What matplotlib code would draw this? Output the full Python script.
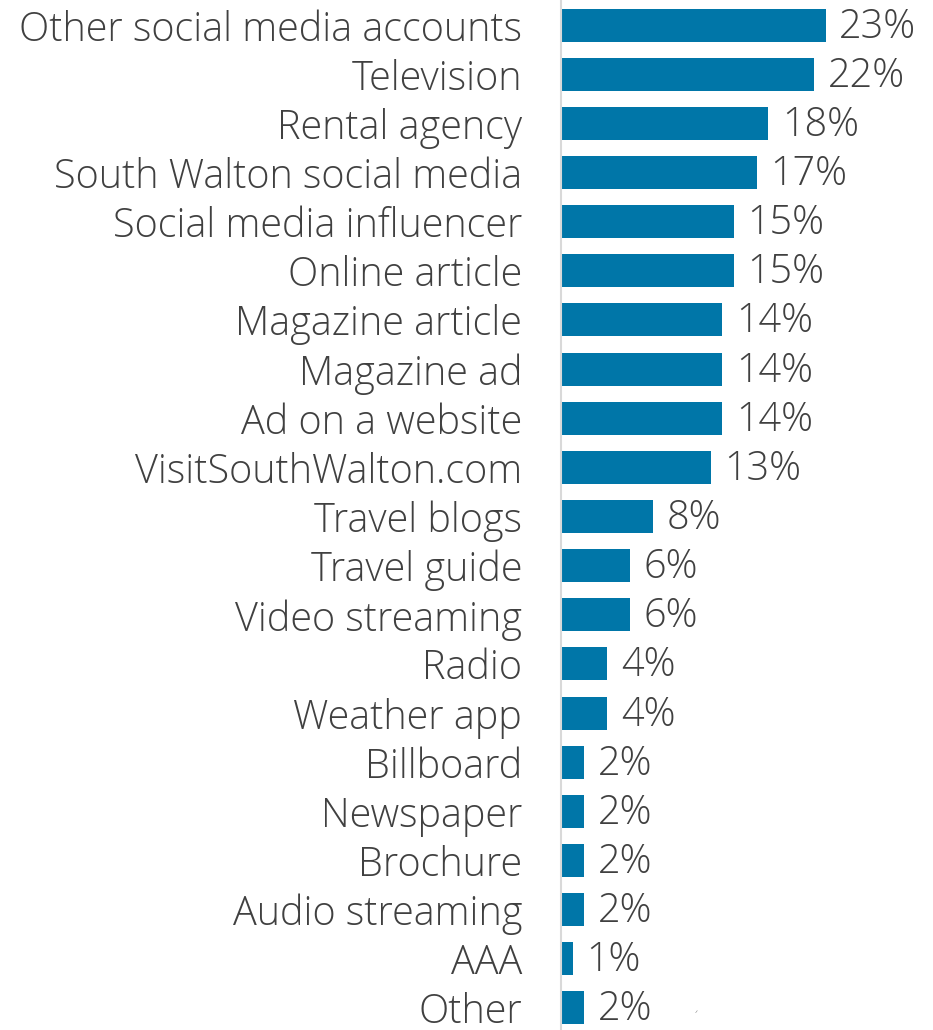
import matplotlib
matplotlib.use('Agg')
import matplotlib.pyplot as plt

# data
categories = ["Other social media accounts", "Television", "Rental agency",
              "South Walton social media", "Social media influencer", "Online article",
              "Magazine article", "Magazine ad", "Ad on a website", "VisitSouthWalton.com",
              "Travel blogs", "Travel guide", "Video streaming", "Radio", "Weather app",
              "Billboard", "Newspaper", "Brochure", "Audio streaming", "AAA", "Other"]
values = [23, 22, 18, 17, 15, 15, 14, 14, 14, 13, 8, 6, 6, 4, 4, 2, 2, 2, 2, 1, 2]

BAR_COLOR = "#0076a8"
TEXT_COLOR = "#404040"
FS = 28.5

plt.rcParams['font.family'] = ['Open Sans', 'DejaVu Sans']
plt.rcParams['font.weight'] = 'light'

fig = plt.figure(figsize=(9.33, 10.30), dpi=100)
left = 561 / 933
ax = fig.add_axes([left, 0, 1 - left, 1])

ypos = list(range(len(categories)))
ax.barh(ypos, values, height=0.67, color=BAR_COLOR)

ax.set_xlim(0, (933 - 561) / 11.5)
ax.set_ylim(20.45, -0.51)

for y, v in zip(ypos, values):
    ax.text(v + 1.2, y + 0.04, f"{v}%", va='center', ha='left', fontsize=FS,
            color=TEXT_COLOR, fontweight='light')

# small stray tick mark seen at bottom right of the original
ax.text(11.7, 20.2, "\u02ca", fontsize=9, color='#808080', ha='center', va='center')

ax.set_yticks(ypos)
ax.set_yticklabels(categories, fontsize=FS, color=TEXT_COLOR, fontweight='light')
ax.tick_params(axis='y', length=0, pad=28)
ax.set_xticks([])

for s in ['top', 'right', 'bottom']:
    ax.spines[s].set_visible(False)
ax.spines['left'].set_color('#d9d9d9')
ax.spines['left'].set_linewidth(1.5)

fig.savefig("out.png", dpi=100)
